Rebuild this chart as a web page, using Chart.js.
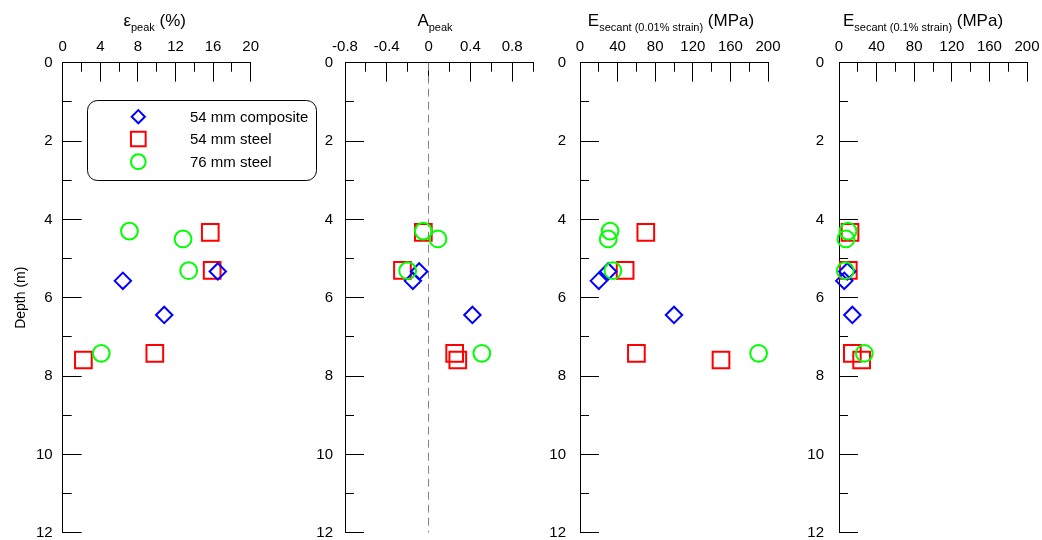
<!DOCTYPE html>
<html>
<head>
<meta charset="utf-8">
<title>Peak strain, A and secant modulus with depth</title>
<script src="https://cdn.jsdelivr.net/npm/chart.js@4.4.1/dist/chart.umd.min.js"></script>
<style>
    html, body { margin: 0; padding: 0; background: #fff; overflow: hidden; }
    #root { position: relative; width: 1042px; height: 540px; overflow: hidden; }
    #root canvas { position: absolute; left: 0; top: 0; }
</style>
</head>
<body>
<div id="root"></div>
<script>
// sample depths (m)
const depthComposite54 = [5.33, 5.57, 6.44];
const depthSteel54 = [4.33, 5.30, 7.42, 7.59];
const depthSteel76 = [4.30, 4.50, 5.31, 7.42];

// peak strain (%)
const strainComposite54 = [16.5, 6.4, 10.8];
const strainSteel54 = [15.7, 15.9, 9.8, 2.2];
const strainSteel76 = [7.1, 12.8, 13.4, 4.1];

// A at peak
const aComposite54 = [-0.09, -0.15, 0.42];
const aSteel54 = [-0.05, -0.25, 0.25, 0.28];
const aSteel76 = [-0.05, 0.09, -0.20, 0.51];

// secant modulus at 0.01% strain (MPa)
const e001Composite54 = [30, 20, 100];
const e001Steel54 = [70, 48, 60, 150];
const e001Steel76 = [32, 30, 35, 190];

// secant modulus at 0.1% strain (MPa)
const e01Composite54 = [8.8, 5.6, 14.2];
const e01Steel54 = [11.7, 9.9, 14.2, 24.1];
const e01Steel76 = [9.6, 7.4, 6.7, 26.9];

const seriesLabels = ['54 mm composite', '54 mm steel', '76 mm steel'];

// axes
const xMins = [0, -0.8, 0, 0];
const xMaxs = [20, 1.0, 200, 200];
const xLabelSteps = [4, 0.4, 40, 40];
const xMinorSteps = [2, 0.2, 20, 20];
const depthMin = 0;
const depthMax = 12;
const depthLabelStep = 2;
const depthMinorStep = 1;
const depthTitle = 'Depth (m)';

const titleMain = ['\u03b5', 'A', 'E', 'E'];
const titleSub = ['peak', 'peak', 'secant (0.01% strain)', 'secant (0.1% strain)'];
const titleTail = [' (%)', '', ' (MPa)', ' (MPa)'];

// look
const FONT = '"Liberation Sans", Arial, Helvetica, sans-serif';
const CANVAS_W = 1120, CANVAS_H = 580; // bigger than the page, the extra is cut off
const panelLeft = [62.7, 345, 580, 839];
const panelWidth = 188;
const plotTop = 62.7, plotBottom = 532.7;
const yAxisW = 60, xAxisH = 40;
const yLabelPad = [10, 12, 14, 15];
const titleShift = [-2, -4, -3, -10];
const seriesColors = ['#0000ff', '#ff0000', '#00ff00'];
const seriesStyles = ['rectRot', 'rect', 'circle'];
const seriesRadius = [8.2, 11.8, 8.4];
const legendRadius = [6.6, 10.4, 7.4];
const seriesOrder = [2, 3, 1]; // green on top, then blue, red underneath

function pts(values, depths) {
    return values.map((v, i) => ({ x: v, y: depths[i] }));
}

const panelValues = [
    [strainComposite54, strainSteel54, strainSteel76],
    [aComposite54, aSteel54, aSteel76],
    [e001Composite54, e001Steel54, e001Steel76],
    [e01Composite54, e01Steel54, e01Steel76]
];
const seriesDepths = [depthComposite54, depthSteel54, depthSteel76];

const alignPx = (p) => Math.round(p - 0.5) + 0.5;

const axisTicks = {
    id: 'axisTicks',
    beforeDatasetsDraw(chart, args, o) {
        const { ctx, chartArea: a, scales: { x, y } } = chart;
        ctx.save();
        ctx.strokeStyle = '#000';
        ctx.lineWidth = 1;
        ctx.beginPath();
        const every = Math.round(o.xLabel / o.xMinor);
        const nx = Math.round((x.max - x.min) / o.xMinor);
        for (let i = 1; i <= nx; i++) {
            const px = alignPx(x.getPixelForValue(x.min + i * o.xMinor));
            const len = i % every === 0 ? 19 : 9;
            ctx.moveTo(px, a.top);
            ctx.lineTo(px, a.top + len);
        }
        const everyY = Math.round(depthLabelStep / depthMinorStep);
        const ny = Math.round((depthMax - depthMin) / depthMinorStep);
        for (let i = 1; i <= ny; i++) {
            const py = alignPx(y.getPixelForValue(depthMin + i * depthMinorStep));
            const len = i % everyY === 0 ? 19 : 9;
            ctx.moveTo(a.left, py);
            ctx.lineTo(a.left + len, py);
        }
        ctx.stroke();
        ctx.restore();
    }
};

const panelTitle = {
    id: 'panelTitle',
    afterDraw(chart, args, o) {
        const { ctx, chartArea: a } = chart;
        const big = `17px ${FONT}`;
        const small = `11px ${FONT}`;
        ctx.save();
        ctx.fillStyle = '#000';
        ctx.textAlign = 'left';
        ctx.textBaseline = 'alphabetic';
        ctx.font = big;
        const w1 = ctx.measureText(o.main).width;
        const w3 = ctx.measureText(o.tail).width;
        ctx.font = small;
        const w2 = ctx.measureText(o.sub).width;
        let x = (a.left + a.right) / 2 + o.shift - (w1 + w2 + w3) / 2;
        ctx.font = big;
        ctx.fillText(o.main, x, 26);
        x += w1;
        ctx.font = small;
        ctx.fillText(o.sub, x, 31);
        x += w2;
        ctx.font = big;
        ctx.fillText(o.tail, x, 26);
        ctx.restore();
    }
};

const boxLegend = {
    id: 'boxLegend',
    afterDraw(chart, args, o) {
        if (!o.show) return;
        const ctx = chart.ctx;
        ctx.save();
        ctx.strokeStyle = '#000';
        ctx.lineWidth = 1;
        ctx.beginPath();
        ctx.roundRect(87.5, 100.5, 229, 80, 10);
        ctx.stroke();
        const rows = [116.7, 139, 161.7];
        seriesLabels.forEach((label, i) => {
            ctx.fillStyle = 'rgba(0,0,0,0)';
            ctx.strokeStyle = seriesColors[i];
            ctx.lineWidth = 2;
            Chart.helpers.drawPoint(ctx, {
                pointStyle: seriesStyles[i],
                radius: legendRadius[i],
                rotation: 0,
                borderWidth: 2
            }, 138.3, rows[i]);
            ctx.fillStyle = '#000';
            ctx.font = `15px ${FONT}`;
            ctx.textAlign = 'left';
            ctx.textBaseline = 'middle';
            ctx.fillText(label, 190, rows[i] + 1);
        });
        ctx.restore();
    }
};

function render() {
    const root = document.getElementById('root');
    Chart.defaults.font.family = FONT;
    Chart.defaults.font.size = 15;
    Chart.defaults.color = '#000';

    for (let p = 0; p < 4; p++) {
        const canvas = document.createElement('canvas');
        canvas.width = CANVAS_W;
        canvas.height = CANVAS_H;
        canvas.style.width = CANVAS_W + 'px';
        canvas.style.height = CANVAS_H + 'px';
        root.appendChild(canvas);

        const datasets = seriesLabels.map((label, s) => ({
            label: label,
            data: pts(panelValues[p][s], seriesDepths[s]),
            pointStyle: seriesStyles[s],
            pointRadius: seriesRadius[s],
            pointHoverRadius: seriesRadius[s],
            pointBorderColor: seriesColors[s],
            pointBackgroundColor: 'rgba(0,0,0,0)',
            pointBorderWidth: 2,
            showLine: false,
            clip: false,
            order: seriesOrder[s]
        }));

        if (xMins[p] < 0) {
            // dashed zero line
            datasets.push({
                type: 'line',
                label: 'zero',
                data: [{ x: 0, y: depthMin }, { x: 0, y: depthMax }],
                borderColor: '#808080',
                borderWidth: 1,
                borderDash: [8, 5],
                pointRadius: 0,
                fill: false,
                order: 9
            });
        }

        const left = panelLeft[p];
        new Chart(canvas, {
            type: 'scatter',
            data: { datasets: datasets },
            options: {
                responsive: false,
                animation: false,
                events: [],
                layout: {
                    padding: {
                        left: left - yAxisW,
                        right: CANVAS_W - (left + panelWidth),
                        top: plotTop - xAxisH,
                        bottom: CANVAS_H - plotBottom
                    }
                },
                plugins: {
                    legend: { display: false },
                    tooltip: { enabled: false },
                    axisTicks: { xLabel: xLabelSteps[p], xMinor: xMinorSteps[p] },
                    panelTitle: { main: titleMain[p], sub: titleSub[p], tail: titleTail[p], shift: titleShift[p] },
                    boxLegend: { show: p === 0 }
                },
                scales: {
                    x: {
                        type: 'linear',
                        position: 'top',
                        min: xMins[p],
                        max: xMaxs[p],
                        grid: { display: false, drawTicks: false },
                        border: { display: true, color: '#000', width: 1 },
                        ticks: {
                            stepSize: xLabelSteps[p],
                            includeBounds: false,
                            autoSkip: false,
                            maxRotation: 0,
                            padding: 7,
                            font: { size: 15 },
                            callback: (v) => String(Math.round(v * 10) / 10)
                        },
                        afterFit: (s) => { s.height = xAxisH; }
                    },
                    y: {
                        type: 'linear',
                        reverse: true,
                        min: depthMin,
                        max: depthMax,
                        grid: { display: false, drawTicks: false },
                        border: { display: true, color: '#000', width: 1 },
                        ticks: {
                            stepSize: depthLabelStep,
                            autoSkip: false,
                            padding: yLabelPad[p],
                            font: { size: 15 }
                        },
                        title: {
                            display: p === 0,
                            text: depthTitle,
                            font: { size: 14 },
                            padding: { top: 10, bottom: 0 }
                        },
                        afterFit: (s) => { s.width = yAxisW; }
                    }
                }
            },
            plugins: [axisTicks, panelTitle, boxLegend]
        });
    }
}

render();
</script>
</body>
</html>
